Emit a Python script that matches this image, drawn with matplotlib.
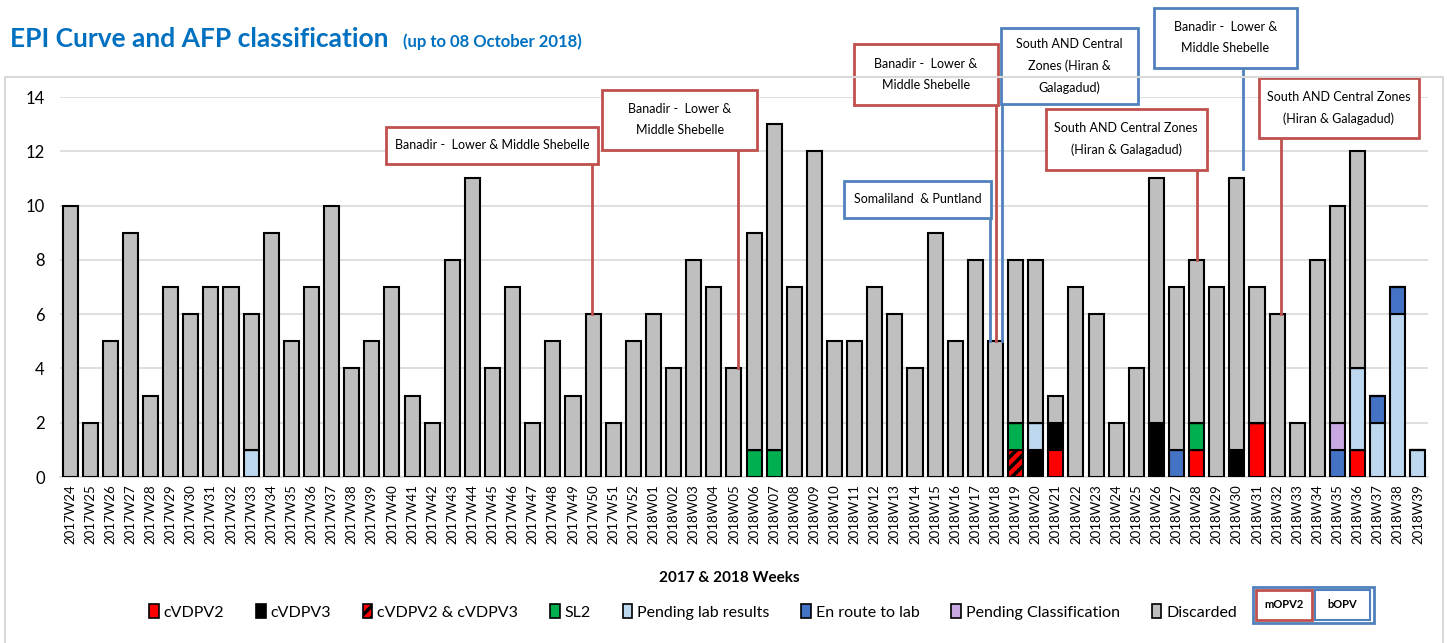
import numpy as np
import matplotlib
matplotlib.use('Agg')
import matplotlib.pyplot as plt
from matplotlib.patches import Patch, Rectangle

plt.rcParams['font.family'] = ['Lato', 'DejaVu Sans']
plt.rcParams['hatch.linewidth'] = 2.5

# Weeks on the x axis
weeks = ['2017W%02d' % w for w in range(24, 53)] + ['2018W%02d' % w for w in range(1, 40)]

# Discarded cases per week (grey part of each bar)
discarded = [10, 2, 5, 9, 3, 7, 6, 7, 7, 5, 9, 5, 7, 10, 4, 5, 7, 3, 2, 8, 11, 4, 7, 2, 5, 3, 6, 2, 5,
             6, 4, 8, 7, 4, 8, 12, 7, 12, 5, 5, 7, 6, 4, 9, 5, 8, 5, 6, 6, 1, 7, 6, 2, 4, 9, 6, 6, 7,
             10, 5, 6, 2, 8, 8, 8, 0, 0, 0]

# Other classifications (only the weeks that have them)
cvdpv2 = {'2018W21': 1, '2018W28': 1, '2018W31': 2, '2018W36': 1}
cvdpv3 = {'2018W20': 1, '2018W21': 1, '2018W26': 2, '2018W30': 1}
combo = {'2018W19': 1}
sl2 = {'2018W06': 1, '2018W07': 1, '2018W19': 1, '2018W28': 1}
pending_lab = {'2017W33': 1, '2018W20': 1, '2018W36': 3, '2018W37': 2, '2018W38': 6, '2018W39': 1}
en_route = {'2018W27': 1, '2018W35': 1, '2018W37': 1, '2018W38': 1}
pending_class = {'2018W35': 1}

series = [
    ('cVDPV2', cvdpv2, '#FF0000', None),
    ('cVDPV3', cvdpv3, '#000000', None),
    ('cVDPV2 & cVDPV3', combo, '#FF0000', '///'),
    ('SL2', sl2, '#00B050', None),
    ('Pending lab results', pending_lab, '#BDD7EE', None),
    ('En route to lab', en_route, '#4472C4', None),
    ('Pending Classification', pending_class, '#C9A7E2', None),
    ('Discarded', discarded, '#BFBFBF', None),
]

# Callouts: text, colour, box (x0, y0, x1, y1) in data units, line x, target week, stop short of bar by
RED = '#C0504D'
BLUE = '#4F81BD'
callouts = [
    ('Banadir -  Lower & Middle Shebelle', RED, (15.7, 11.55, 26.25, 12.9), 25.93, '2017W50', 0),
    ('Banadir -  Lower &\nMiddle Shebelle', RED, (26.45, 12.05, 34.15, 14.26), 33.19, '2018W05', 0),
    ('Somaliland  & Puntland', BLUE, (38.46, 9.54, 45.77, 10.91), 45.72, '2018W18', 0),
    ('Banadir -  Lower &\nMiddle Shebelle', RED, (38.96, 13.71, 46.12, 15.95), 46.05, '2018W18', 0),
    ('South AND Central\nZones (Hiran &\nGalagadud)', BLUE, (46.27, 13.74, 53.08, 16.54), 46.32, '2018W18', 0),
    ('South AND Central Zones\n(Hiran & Galagadud)', RED, (48.5, 11.31, 56.5, 13.56), 56.02, '2018W28', 0),
    ('Banadir -  Lower &\nMiddle Shebelle', BLUE, (53.88, 15.07, 60.99, 17.28), 58.30, '2018W30', 0.35),
    ('South AND Central Zones\n(Hiran & Galagadud)', RED, (59.1, 12.49, 67.05, 14.70), 60.19, '2018W32', 0),
]

W, H = 1447, 643
fig = plt.figure(figsize=(W / 100, H / 100), dpi=100)
ax = fig.add_axes([60 / W, 1 - 477 / H, 1368 / W, 380 / H])

x = np.arange(len(weeks))
bottom = np.zeros(len(weeks))
handles = []
for name, vals, color, hatch in series:
    if isinstance(vals, dict):
        v = np.array([vals.get(w, 0) for w in weeks], dtype=float)
    else:
        v = np.array(vals, dtype=float)
    ax.bar(x, v, 0.75, bottom=bottom, color=color, edgecolor='black', linewidth=1.5,
           hatch=hatch, zorder=3)
    bottom += v
    handles.append(Patch(facecolor=color, edgecolor='black', linewidth=1.2, hatch=hatch, label=name))

ax.set_xlim(-0.5, len(weeks) - 0.5)
ax.set_ylim(0, 14)
ax.set_yticks(range(0, 15, 2))
ax.set_xticks(x)
ax.set_xticklabels(weeks, rotation=90, fontsize=9.5)
ax.tick_params(axis='y', labelsize=12, length=0, pad=11)
ax.tick_params(axis='x', length=0, pad=5)
ax.grid(axis='y', color='#D9D9D9', linewidth=1.2, zorder=0)
for s in ['top', 'right', 'left']:
    ax.spines[s].set_visible(False)
ax.spines['bottom'].set_color('#D9D9D9')
ax.spines['bottom'].set_linewidth(1.2)

# callout boxes with leader lines
for text, col, (x0, y0, x1, y1), lx, target, gap in callouts:
    top = bottom[weeks.index(target)] + gap
    ax.plot([lx, lx], [y0, top], color=col, linewidth=2, clip_on=False, zorder=4)
    ax.add_patch(Rectangle((x0, y0), x1 - x0, y1 - y0, facecolor='white', edgecolor=col,
                           linewidth=2, clip_on=False, zorder=5))
    ax.text((x0 + x1) / 2, (y0 + y1) / 2, text, ha='center', va='center', fontsize=9,
            linespacing=1.9, clip_on=False, zorder=6)

# outer chart border
fig.patches.append(Rectangle((5 / W, -0.01), 1438 / W, 1 - 77 / H + 0.01, transform=fig.transFigure,
                             fill=False, edgecolor='#D9D9D9', linewidth=1.5))

# title
fig.text(10 / W, 1 - 47 / H, 'EPI Curve and AFP classification', fontsize=19, fontweight='bold',
         color='#0070C0', va='baseline')
fig.text(403 / W, 1 - 47 / H, '(up to 08 October 2018)', fontsize=12, fontweight='bold',
         color='#0070C0', va='baseline')

fig.text(729 / W, 1 - 578 / H, '2017 & 2018 Weeks', fontsize=11, fontweight='bold', ha='center', va='center')

fig.legend(handles=handles, loc='center', bbox_to_anchor=(693 / W, 1 - 612 / H), ncol=8, frameon=False,
           fontsize=11.5, handlelength=0.6, handleheight=0.9, handletextpad=0.3, columnspacing=2.0)

# mOPV2 / bOPV key
fig.patches.append(Rectangle((1253 / W, 1 - 623 / H), 121 / W, 36 / H, transform=fig.transFigure,
                             fill=False, edgecolor=BLUE, linewidth=2))
fig.patches.append(Rectangle((1256 / W, 1 - 620 / H), 56 / W, 30 / H, transform=fig.transFigure,
                             fill=False, edgecolor=RED, linewidth=2))
fig.patches.append(Rectangle((1315 / W, 1 - 620 / H), 55 / W, 30 / H, transform=fig.transFigure,
                             fill=False, edgecolor=BLUE, linewidth=1.5))
fig.text(1284 / W, 1 - 605 / H, 'mOPV2', fontsize=8, fontweight='bold', ha='center', va='center')
fig.text(1342 / W, 1 - 605 / H, 'bOPV', fontsize=8, fontweight='bold', ha='center', va='center')

fig.savefig('out.png', dpi=100)
